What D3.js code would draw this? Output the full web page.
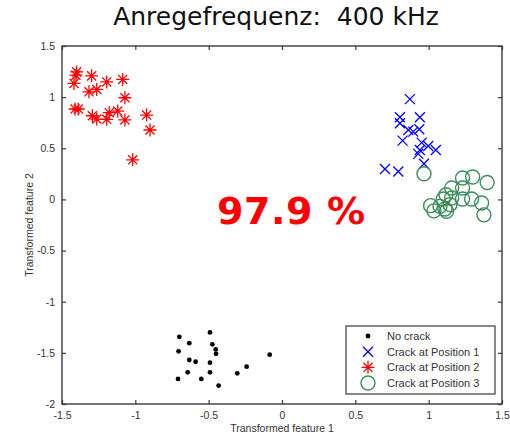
<!DOCTYPE html>
<html>
<head>
<meta charset="utf-8">
<script src="https://cdn.jsdelivr.net/npm/d3@7"></script>
<style>
  body { margin: 0; background: #fff; }
  svg { display: block; }
</style>
</head>
<body>
<svg id="chart"></svg>
<script>
const width = 510;
const height = 436;

// data
const noCrack = [
  [-0.491, -1.300], [-0.700, -1.343], [-0.632, -1.405], [-0.475, -1.417],
  [-0.452, -1.466], [-0.705, -1.485], [-0.450, -1.509], [-0.084, -1.518],
  [-0.632, -1.570], [-0.589, -1.587], [-0.491, -1.596], [-0.241, -1.635],
  [-0.643, -1.690], [-0.491, -1.690], [-0.305, -1.700], [-0.709, -1.755],
  [-0.550, -1.755], [-0.432, -1.820]
];
const crackPos1 = [
  [0.872, 0.981], [0.804, 0.803], [0.940, 0.803], [0.804, 0.744],
  [0.861, 0.679], [0.895, 0.663], [0.936, 0.686], [0.822, 0.575],
  [0.952, 0.555], [0.997, 0.523], [0.940, 0.484], [1.049, 0.484],
  [0.929, 0.445], [0.968, 0.348], [0.702, 0.297], [0.793, 0.273]
];
const crackPos2 = [
  [-1.400, 1.247], [-1.405, 1.215], [-1.418, 1.134], [-1.298, 1.208],
  [-1.195, 1.149], [-1.086, 1.173], [-1.316, 1.052], [-1.263, 1.075],
  [-1.071, 0.994], [-1.411, 0.884], [-1.389, 0.884], [-1.293, 0.818],
  [-1.263, 0.786], [-1.195, 0.783], [-1.178, 0.848], [-1.120, 0.864],
  [-1.071, 0.777], [-0.923, 0.825], [-0.900, 0.679], [-1.018, 0.387]
];
const crackPos3 = [
  [0.968, 0.251], [1.231, 0.209], [1.300, 0.219], [1.399, 0.166],
  [1.157, 0.111], [1.231, 0.111], [1.118, 0.046], [1.099, 0.004],
  [1.157, 0.014], [1.231, 0.004], [1.293, 0.004], [1.013, -0.061],
  [1.077, -0.068], [1.145, -0.051], [1.111, -0.093], [1.361, -0.035],
  [1.036, -0.112], [1.122, -0.116], [1.377, -0.151]
];
const xTicks = [-1.5, -1, -0.5, 0, 0.5, 1, 1.5];
const yTicks = [-2, -1.5, -1, -0.5, 0, 0.5, 1, 1.5];
const legendLabels = ["No crack", "Crack at Position 1", "Crack at Position 2", "Crack at Position 3"];

const margin = {left: 62, right: 8, top: 46, bottom: 32};
const plotW = width - margin.left - margin.right;
const plotH = height - margin.top - margin.bottom;

const svg = d3.select('#chart').attr('width', width).attr('height', height);

const x = d3.scaleLinear().domain([-1.5, 1.5]).range([margin.left, margin.left + plotW]);
const y = d3.scaleLinear().domain([-2, 1.5]).range([margin.top + plotH, margin.top]);

const axisColor = "#3a3a3a";
const fmt = d => String(d);

// title
svg.append("text")
  .attr("x", 276).attr("y", 25)
  .attr("text-anchor", "middle")
  .style("font-family", "'DejaVu Sans', Verdana, sans-serif")
  .style("font-size", "25px")
  .style("fill", "#111")
  .style("white-space", "pre")
  .text("Anregefrequenz:  400 kHz");

// axes, ticks pointing inwards like matlab
function styleAxis(g) {
  g.select(".domain").remove();
  g.selectAll(".tick line").attr("stroke", axisColor).attr("stroke-width", 1.2);
  g.selectAll(".tick text")
    .style("font-family", "'Liberation Sans', Arial, sans-serif")
    .style("font-size", "10.5px")
    .attr("fill", "#333");
}

svg.append("g").attr("transform", `translate(0,${y(-2)})`)
  .call(d3.axisBottom(x).tickValues(xTicks).tickSize(-4).tickPadding(8).tickFormat(fmt))
  .call(styleAxis);
svg.append("g").attr("transform", `translate(0,${y(1.5)})`)
  .call(d3.axisTop(x).tickValues(xTicks).tickSize(-4).tickFormat(""))
  .call(styleAxis);
svg.append("g").attr("transform", `translate(${x(-1.5)},0)`)
  .call(d3.axisLeft(y).tickValues(yTicks).tickSize(-4).tickPadding(7).tickFormat(fmt))
  .call(styleAxis);
svg.append("g").attr("transform", `translate(${x(1.5)},0)`)
  .call(d3.axisRight(y).tickValues(yTicks).tickSize(-4).tickFormat(""))
  .call(styleAxis);

svg.append("rect")
  .attr("x", x(-1.5)).attr("y", y(1.5))
  .attr("width", x(1.5) - x(-1.5)).attr("height", y(-2) - y(1.5))
  .attr("fill", "none").attr("stroke", axisColor).attr("stroke-width", 1.4);

// axis labels
svg.append("text")
  .attr("x", x(0)).attr("y", 432)
  .attr("text-anchor", "middle")
  .style("font-family", "'Liberation Sans', Arial, sans-serif")
  .style("font-size", "10.5px")
  .attr("fill", "#333")
  .text("Transformed feature 1");
svg.append("text")
  .attr("transform", `translate(33,${y(-0.25)}) rotate(-90)`)
  .attr("text-anchor", "middle")
  .style("font-family", "'Liberation Sans', Arial, sans-serif")
  .style("font-size", "10.5px")
  .attr("fill", "#333")
  .text("Transformed feature 2");

// marker shapes
const red = "#ff0000", blue = "#0000ff", green = "#3c8c5c";

function star(s) {
  const a = s * 0.7;
  return `M${-s},0L${s},0M0,${-s}L0,${s}M${-a},${-a}L${a},${a}M${-a},${a}L${a},${-a}`;
}
function cross(s) {
  return `M${-s},${-s}L${s},${s}M${-s},${s}L${s},${-s}`;
}

const marks = svg.append("g");

marks.selectAll(".nc").data(noCrack).enter().append("circle")
  .attr("cx", d => x(d[0])).attr("cy", d => y(d[1]))
  .attr("r", 2.4).attr("fill", "#000");

marks.selectAll(".p1").data(crackPos1).enter().append("path")
  .attr("transform", d => `translate(${x(d[0])},${y(d[1])})`)
  .attr("d", cross(5))
  .attr("stroke", blue).attr("stroke-width", 1.3).attr("fill", "none");

marks.selectAll(".p2").data(crackPos2).enter().append("path")
  .attr("transform", d => `translate(${x(d[0])},${y(d[1])})`)
  .attr("d", star(6.5))
  .attr("stroke", red).attr("stroke-width", 1.3).attr("fill", "none");

marks.selectAll(".p3").data(crackPos3).enter().append("circle")
  .attr("cx", d => x(d[0])).attr("cy", d => y(d[1]))
  .attr("r", 7).attr("stroke", green).attr("stroke-width", 1.4).attr("fill", "none");

// accuracy text
svg.append("text")
  .attr("x", 217).attr("y", 224)
  .style("font-family", "'DejaVu Sans', Verdana, sans-serif")
  .style("font-weight", "bold")
  .style("font-size", "38px")
  .style("letter-spacing", "0.6px")
  .attr("fill", red)
  .style("white-space", "pre")
  .text("97.9 %");

// legend
const leg = svg.append("g");
leg.append("rect")
  .attr("x", 346).attr("y", 326).attr("width", 149).attr("height", 68)
  .attr("fill", "#fff").attr("stroke", axisColor).attr("stroke-width", 1.2);

const rowY = d3.scalePoint().domain(legendLabels).range([336, 383]);
const mx = 368;

leg.append("circle").attr("cx", mx).attr("cy", rowY(legendLabels[0])).attr("r", 2.4).attr("fill", "#000");
leg.append("path").attr("transform", `translate(${mx},${rowY(legendLabels[1])})`)
  .attr("d", cross(5)).attr("stroke", blue).attr("stroke-width", 1.3);
leg.append("path").attr("transform", `translate(${mx},${rowY(legendLabels[2])})`)
  .attr("d", star(6.5)).attr("stroke", red).attr("stroke-width", 1.3);
leg.append("circle").attr("cx", mx).attr("cy", rowY(legendLabels[3])).attr("r", 7)
  .attr("stroke", green).attr("stroke-width", 1.4).attr("fill", "none");

leg.selectAll(".lt").data(legendLabels).enter().append("text")
  .attr("x", 387).attr("y", d => rowY(d) + 4)
  .style("font-family", "'Liberation Sans', Arial, sans-serif")
  .style("font-size", "11px")
  .attr("fill", "#333")
  .text(d => d);
</script>
</body>
</html>
